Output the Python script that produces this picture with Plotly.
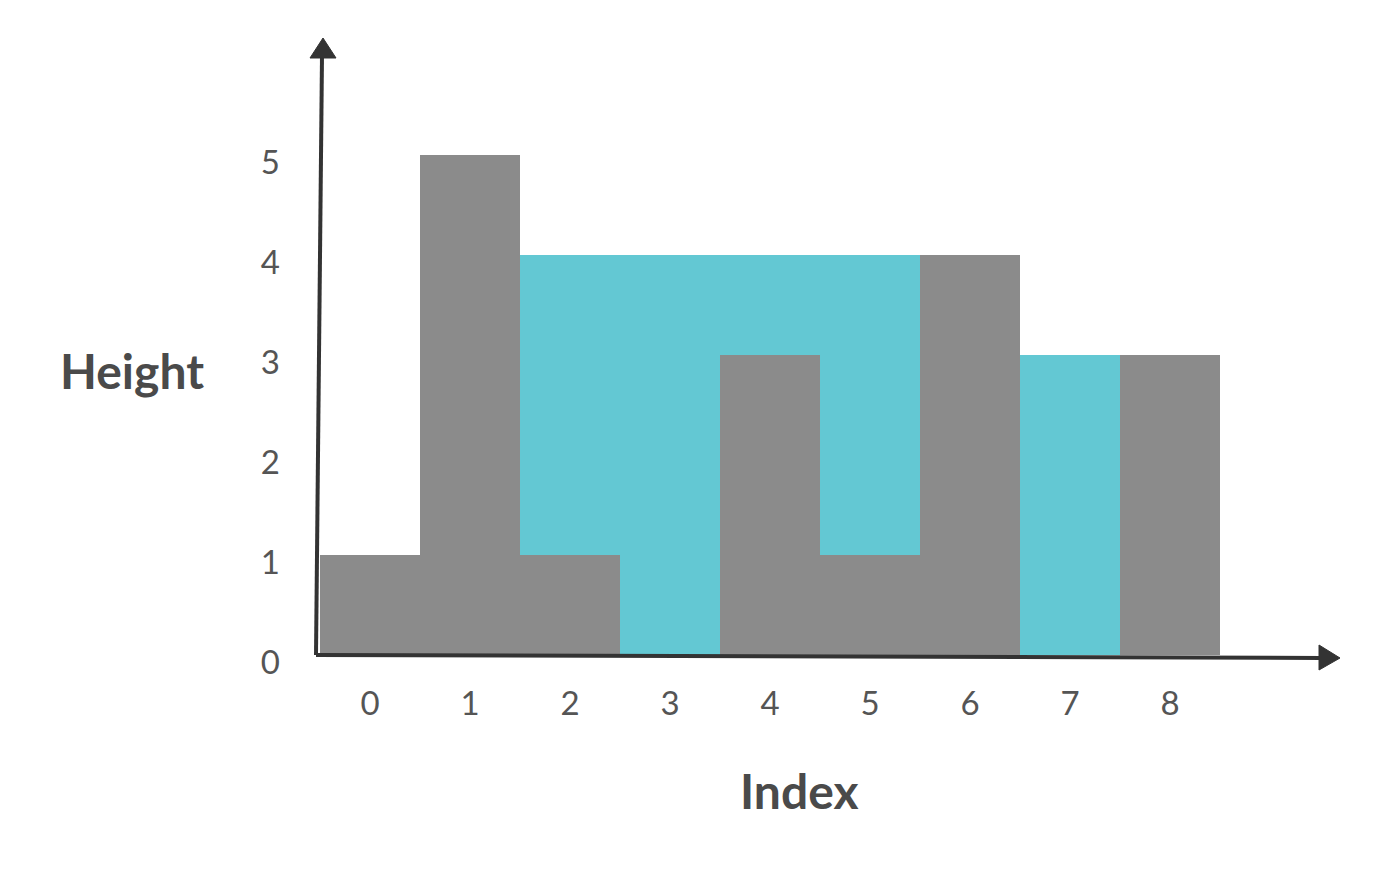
import plotly.graph_objects as go

categories = [0, 1, 2, 3, 4, 5, 6, 7, 8]
heights = [1, 5, 1, 0, 3, 1, 4, 0, 3]
water = [0, 0, 3, 4, 1, 3, 0, 3, 0]
y_ticks = [0, 1, 2, 3, 4, 5]

GREY = "#8b8b8b"
CYAN = "#63c8d3"
AX = "#333333"
TXT = "#555555"

W, H = 1379, 882
# plot area in screen pixels (page renders with an 8px body offset)
L, R, T, B = 318, 39, 40, 227
OFF = 8
PW, PH = W - L - R, H - T - B

fig = go.Figure()
fig.add_trace(go.Bar(x=categories, y=heights, marker=dict(color=GREY, line=dict(width=0)),
                     width=1, showlegend=False, hoverinfo="skip"))
fig.add_trace(go.Bar(x=categories, y=water, marker=dict(color=CYAN, line=dict(width=0)),
                     width=1, showlegend=False, hoverinfo="skip"))

def fx(x):
    return (x - L) / PW

def fy(y):
    return (655 - y) / PH

# axes lines, slightly hand-drawn tilt
fig.add_shape(type="line", xref="paper", yref="paper",
              x0=fx(316), y0=fy(655), x1=fx(1322), y1=fy(658),
              line=dict(color=AX, width=4))
fig.add_shape(type="line", xref="paper", yref="paper",
              x0=fx(316), y0=fy(655), x1=fx(322), y1=fy(56),
              line=dict(color=AX, width=4))

def tri(points):
    return "M " + " L ".join(f"{fx(x)},{fy(y)}" for x, y in points) + " Z"

fig.add_shape(type="path", xref="paper", yref="paper",
              path=tri([(1319, 645), (1340, 658), (1319, 670)]),
              fillcolor=AX, line=dict(color=AX, width=1))
fig.add_shape(type="path", xref="paper", yref="paper",
              path=tri([(310, 58), (323, 38), (336, 58)]),
              fillcolor=AX, line=dict(color=AX, width=1))

fig.add_annotation(text="<b>Height</b>", xref="paper", yref="paper",
                   x=fx(132), y=fy(370),
                   showarrow=False, font=dict(family="Lato", size=48, color="#4a4a4a"),
                   xanchor="center", yanchor="middle")
fig.add_annotation(text="<b>Index</b>", xref="paper", yref="paper",
                   x=fx(799), y=fy(790),
                   showarrow=False, font=dict(family="Lato", size=48, color="#4a4a4a"),
                   xanchor="center", yanchor="middle")

fig.update_layout(
    width=W, height=H,
    margin=dict(l=L - OFF, r=R + OFF, t=T - OFF, b=B + OFF),
    barmode="stack", bargap=0,
    plot_bgcolor="white", paper_bgcolor="white",
    xaxis=dict(range=[-0.52, 9.7], tickmode="array", tickvals=categories,
               ticktext=[str(c) for c in categories], showgrid=False, zeroline=False,
               showline=False, ticks="", ticklabelstandoff=26,
               tickfont=dict(family="Lato", size=33, color=TXT)),
    yaxis=dict(range=[0, 6.15], tickmode="array", tickvals=y_ticks,
               ticktext=[str(v) for v in y_ticks], showgrid=False, zeroline=False,
               showline=False, ticks="", ticklabelstandoff=37, ticklabelshift=7,
               tickfont=dict(family="Lato", size=33, color=TXT)),
)

fig.write_html("out.html")
